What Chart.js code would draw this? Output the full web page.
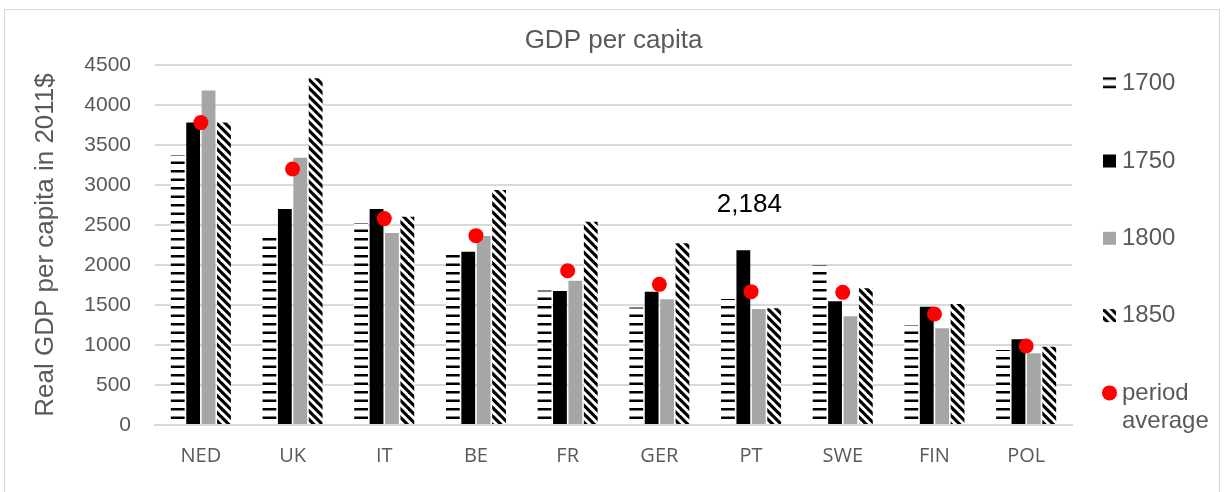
<!DOCTYPE html>
<html>
<head>
<meta charset="utf-8">
<script src="https://cdn.jsdelivr.net/npm/chart.js@4/dist/chart.umd.min.js"></script>
<style>
  html, body { margin: 0; padding: 0; background: #fff; overflow: hidden; }
  #wrap { position: relative; width: 1229px; height: 492px; }
  #frame { position: absolute; left: 4px; top: 9px; width: 1216px; height: 500px; border: 1.5px solid #d9d9d9; box-sizing: border-box; }
  #c { position: absolute; left: 0; top: 0; }
</style>
</head>
<body>
<div id="wrap">
  <div id="frame"></div>
  <canvas id="c" width="1229" height="492"></canvas>
</div>
<script>
const categories = ['NED', 'UK', 'IT', 'BE', 'FR', 'GER', 'PT', 'SWE', 'FIN', 'POL'];
const gdp1700 = [3375, 2410, 2525, 2187, 1680, 1470, 1575, 1995, 1250, 937];
const gdp1750 = [3780, 2700, 2700, 2167, 1675, 1667, 2184, 1546, 1479, 1071];
const gdp1800 = [4180, 3342, 2400, 2362, 1804, 1571, 1450, 1358, 1208, 896];
const gdp1850 = [3780, 4333, 2604, 2937, 2542, 2271, 1458, 1708, 1512, 979];
const periodAverage = [3780, 3200, 2580, 2367, 1929, 1758, 1667, 1658, 1387, 987];
const seriesNames = ['1700', '1750', '1800', '1850', 'period average'];
const yTickLabels = ['0', '500', '1000', '1500', '2000', '2500', '3000', '3500', '4000', '4500'];
const chartTitle = 'GDP per capita';
const yAxisTitle = 'Real GDP per capita in 2011$';
const labelledPoint = { series: 1, category: 'PT' };

const canvas = document.getElementById('c');
const ctx = canvas.getContext('2d');

function horizontalPattern() {
  const c = document.createElement('canvas');
  c.width = 17; c.height = 17;
  const g = c.getContext('2d');
  g.fillStyle = '#fff'; g.fillRect(0, 0, 17, 17);
  g.fillStyle = '#000';
  g.fillRect(0, 0, 17, 2.5);
  g.fillRect(0, 8.5, 17, 2.5);
  return ctx.createPattern(c, 'repeat');
}
function diagonalPattern() {
  const c = document.createElement('canvas');
  c.width = 17; c.height = 17;
  const g = c.getContext('2d');
  g.fillStyle = '#fff'; g.fillRect(0, 0, 17, 17);
  g.strokeStyle = '#000'; g.lineWidth = 3.2;
  for (const k of [-25.5, -17, -8.5, 0, 8.5, 17, 25.5]) {
    g.beginPath(); g.moveTo(k - 3, -3); g.lineTo(k + 20, 20); g.stroke();
  }
  return ctx.createPattern(c, 'repeat');
}

const fills = [horizontalPattern(), '#000000', '#a6a6a6', diagonalPattern()];
const grey = '#595959';

const titlePlugin = {
  id: 'titleText',
  afterDraw(chart) {
    const { ctx, chartArea } = chart;
    ctx.save();
    ctx.fillStyle = grey;
    ctx.font = '26px "Liberation Sans", Arial, sans-serif';
    ctx.textAlign = 'center';
    ctx.textBaseline = 'middle';
    ctx.fillText(chartTitle, (chartArea.left + chartArea.right) / 2, chartArea.top - 24);
    ctx.restore();
  }
};

const valueLabelPlugin = {
  id: 'valueLabel',
  afterDatasetsDraw(chart) {
    const { ctx } = chart;
    const idx = categories.indexOf(labelledPoint.category);
    const el = chart.getDatasetMeta(labelledPoint.series).data[idx];
    const v = chart.data.datasets[labelledPoint.series].data[idx];
    ctx.save();
    ctx.fillStyle = '#000';
    ctx.font = '26px "Liberation Sans", Arial, sans-serif';
    ctx.textAlign = 'center';
    ctx.textBaseline = 'middle';
    ctx.fillText(v.toLocaleString('en-US'), el.x + 6, el.y - 45);
    ctx.restore();
  }
};

const legendPlugin = {
  id: 'sideLegend',
  afterDraw(chart) {
    const { ctx, chartArea } = chart;
    const boxX = chartArea.right + 31;
    const textX = chartArea.right + 50;
    const step = 77.3;
    ctx.save();
    ctx.font = '24px "Liberation Sans", Arial, sans-serif';
    ctx.textBaseline = 'middle';
    ctx.textAlign = 'left';
    chart.data.datasets.forEach((ds, i) => {
      const y = chartArea.top + 18.7 + i * step;
      if (ds.type === 'line') {
        ctx.fillStyle = ds.pointBackgroundColor;
        ctx.beginPath();
        ctx.arc(boxX + 6.5, y, 7.5, 0, Math.PI * 2);
        ctx.fill();
        ctx.fillStyle = grey;
        ds.label.split(' ').forEach((w, j) => ctx.fillText(w, textX, y + j * 28.5));
      } else {
        ctx.save();
        ctx.translate(boxX, y - 6.5);
        ctx.fillStyle = ds.backgroundColor;
        ctx.fillRect(0, 0, 13, 13);
        ctx.restore();
        ctx.fillStyle = grey;
        ctx.fillText(ds.label, textX, y);
      }
    });
    ctx.restore();
  }
};

const barSeries = [gdp1700, gdp1750, gdp1800, gdp1850];
const datasets = barSeries.map((d, i) => ({
  type: 'bar',
  label: seriesNames[i],
  data: d,
  backgroundColor: fills[i],
  borderWidth: 0,
  barPercentage: 0.896,
  categoryPercentage: 0.672,
  order: 1
}));
datasets.push({
  type: 'line',
  label: seriesNames[4],
  data: periodAverage,
  showLine: false,
  pointRadius: 7.5,
  pointHoverRadius: 7.5,
  pointBackgroundColor: '#ff0000',
  pointBorderColor: '#ff0000',
  pointBorderWidth: 0,
  borderColor: '#ff0000',
  backgroundColor: '#ff0000',
  order: 0
});

new Chart(canvas, {
  data: { labels: categories, datasets },
  options: {
    responsive: false,
    animation: false,
    layout: { padding: { top: 65, right: 157, bottom: 0, left: 0 } },
    plugins: {
      legend: { display: false },
      title: { display: false },
      tooltip: { enabled: false }
    },
    scales: {
      x: {
        offset: true,
        grid: { display: false, drawTicks: false },
        border: { display: true, color: '#d9d9d9', width: 2 },
        ticks: { color: grey, font: { family: '"Open Sans", sans-serif', size: 20 }, padding: 19 },
        afterFit(scale) { scale.height = 67; }
      },
      y: {
        min: 0,
        max: 4500,
        ticks: {
          stepSize: 500,
          color: grey,
          font: { family: '"Liberation Sans", Arial, sans-serif', size: 21 },
          padding: 24,
          callback: (v, i) => yTickLabels[i]
        },
        grid: { color: '#d9d9d9', lineWidth: 2, drawTicks: false },
        border: { display: false },
        title: {
          display: true,
          text: yAxisTitle,
          color: grey,
          font: { family: '"Liberation Sans", Arial, sans-serif', size: 26 },
          padding: { top: 30, bottom: 0 }
        },
        afterFit(scale) { scale.width = 155; }
      }
    }
  },
  plugins: [titlePlugin, valueLabelPlugin, legendPlugin]
});
</script>
</body>
</html>
